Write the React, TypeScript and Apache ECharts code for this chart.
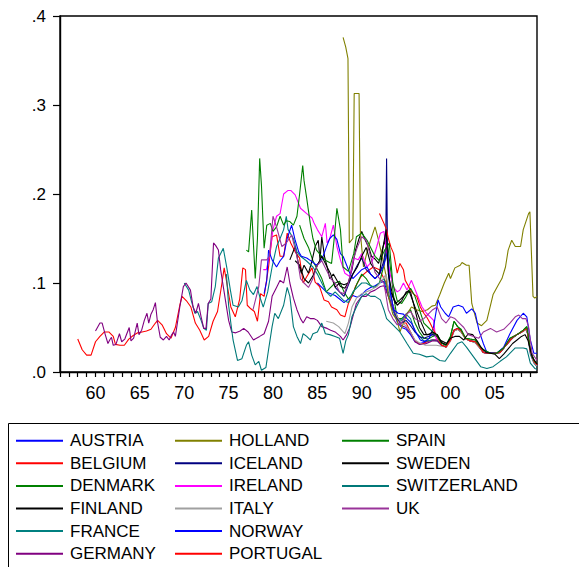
import React, { useEffect, useRef } from 'react';
import * as echarts from 'echarts';

const FONT = 'Liberation Sans, Arial, sans-serif';

const COUNTRIES = [
  'AUSTRIA', 'BELGIUM', 'DENMARK', 'FINLAND', 'FRANCE', 'GERMANY',
  'HOLLAND', 'ICELAND', 'IRELAND', 'ITALY', 'NORWAY', 'PORTUGAL',
  'SPAIN', 'SWEDEN', 'SWITZERLAND', 'UK',
];
const COLORS = [
  '#0000FF', '#FF0000', '#008000', '#000000', '#008080', '#800080',
  '#808000', '#000080', '#FF00FF', '#A0A0A0', '#0000FF', '#FF0000',
  '#008000', '#000000', '#007878', '#993399',
];
const Y_TICKS = [0, 0.1, 0.2, 0.3, 0.4];
const X_LABEL_YEARS = [1960, 1965, 1970, 1975, 1980, 1985, 1990, 1995, 2000, 2005];

// [time (year + fraction), value]
const AUSTRIA = [[1985.0,.100],[1985.5,.095],[1986.0,.090],[1986.5,.088],[1987.0,.086],[1987.5,.082],[1988.0,.078],[1988.5,.082],[1989.0,.086],[1989.5,.084],[1990.0,.087],[1990.5,.092],[1991.0,.095],[1991.5,.097],[1992.0,.100],[1992.5,.102],[1993.0,.085],[1993.5,.070],[1994.0,.056],[1994.5,.050],[1995.0,.048],[1995.5,.042],[1996.0,.034],[1996.5,.032],[1997.0,.033],[1997.5,.035],[1998.0,.036],[1998.5,.036],[1999.0,.030],[1999.5,.028],[2000.0,.036],[2000.4,.047],[2000.8,.049],[2001.2,.046],[2001.7,.038],[2002.2,.035],[2002.8,.034],[2003.3,.028],[2003.7,.022],[2004.3,.021],[2005.0,.021],[2005.6,.022],[2006.0,.027],[2006.5,.033],[2007.0,.039],[2007.5,.042],[2008.0,.045],[2008.6,.049],[2009.0,.024],[2009.4,.012],[2009.75,.008]];
const BELGIUM = [[1958.0,.037],[1958.5,.025],[1959.0,.019],[1959.5,.019],[1960.0,.034],[1960.5,.040],[1961.0,.045],[1961.5,.045],[1962.0,.040],[1962.25,.031],[1962.75,.030],[1963.25,.030],[1963.75,.037],[1964.25,.041],[1964.75,.044],[1965.25,.045],[1965.75,.046],[1966.25,.048],[1966.75,.055],[1967.0,.058],[1967.5,.053],[1968.0,.043],[1968.5,.038],[1969.0,.050],[1969.5,.075],[1969.75,.085],[1970.25,.080],[1970.75,.073],[1971.25,.055],[1971.75,.047],[1972.25,.036],[1972.75,.040],[1973.25,.057],[1973.75,.068],[1974.25,.100],[1974.5,.117],[1974.75,.103],[1975.25,.073],[1975.75,.062],[1976.25,.082],[1976.6,.117],[1976.9,.115],[1977.1,.075],[1977.5,.071],[1977.9,.068],[1978.25,.057],[1978.6,.088],[1979.0,.085],[1979.5,.118],[1979.9,.152],[1980.4,.154],[1980.8,.130],[1981.2,.130],[1981.6,.156],[1982.0,.145],[1982.5,.135],[1983.0,.128],[1983.4,.100],[1983.8,.107],[1984.4,.117],[1984.75,.101],[1985.25,.096],[1985.75,.081],[1986.25,.079],[1986.6,.073],[1987.2,.070],[1987.6,.064],[1988.1,.062],[1988.5,.077],[1988.9,.085],[1989.3,.096],[1989.9,.107],[1990.6,.113],[1991.3,.118],[1992.0,.115],[1992.5,.105],[1993.0,.095],[1993.5,.075],[1994.0,.062],[1994.5,.055],[1995.0,.055],[1995.5,.045],[1996.0,.035],[1996.5,.032],[1997.0,.032],[1997.5,.035],[1998.0,.036],[1998.5,.036],[1999.0,.030],[1999.5,.028],[2000.0,.035],[2000.4,.047],[2000.8,.049],[2001.2,.046],[2001.7,.038],[2002.2,.035],[2002.8,.034],[2003.3,.028],[2003.7,.022],[2004.3,.021],[2005.0,.021],[2005.6,.022],[2006.0,.027],[2006.5,.033],[2007.0,.039],[2007.5,.042],[2008.0,.045],[2008.6,.049],[2009.0,.024],[2009.4,.012],[2009.75,.008]];
const DENMARK = [[1983.0,.165],[1983.5,.150],[1984.0,.140],[1984.5,.125],[1985.0,.115],[1985.5,.105],[1986.0,.090],[1986.5,.095],[1987.0,.100],[1987.5,.102],[1988.0,.090],[1988.5,.082],[1989.0,.088],[1989.5,.100],[1990.0,.110],[1990.5,.105],[1991.0,.097],[1991.5,.095],[1992.0,.100],[1992.5,.120],[1992.9,.145],[1993.2,.120],[1993.6,.085],[1994.0,.060],[1994.5,.060],[1995.0,.065],[1995.5,.070],[1996.0,.055],[1996.5,.045],[1997.0,.038],[1997.5,.037],[1998.0,.040],[1998.5,.042],[1999.0,.033],[1999.5,.030],[2000.0,.040],[2000.4,.057],[2000.8,.051],[2001.2,.048],[2001.7,.038],[2002.2,.037],[2002.8,.036],[2003.3,.028],[2003.7,.025],[2004.5,.021],[2005.2,.021],[2006.0,.027],[2006.7,.038],[2007.5,.042],[2008.2,.047],[2008.6,.051],[2009.0,.025],[2009.4,.013],[2009.75,.009]];
const FINLAND = [[1981.9,.126],[1982.5,.141],[1982.9,.120],[1983.2,.111],[1983.5,.120],[1984.0,.111],[1984.4,.125],[1984.75,.141],[1985.1,.148],[1985.3,.126],[1985.5,.152],[1985.8,.130],[1986.1,.118],[1986.4,.105],[1986.8,.110],[1987.2,.103],[1987.6,.096],[1988.1,.094],[1988.5,.101],[1988.9,.115],[1989.3,.137],[1989.7,.150],[1990.0,.158],[1990.4,.148],[1990.8,.140],[1991.1,.130],[1991.5,.127],[1991.9,.122],[1992.3,.137],[1992.6,.148],[1992.9,.125],[1993.2,.092],[1993.8,.077],[1994.3,.081],[1994.9,.087],[1995.3,.092],[1996.0,.073],[1996.6,.058],[1997.3,.042],[1998.1,.043],[1998.8,.036],[1999.6,.032],[2000.0,.037],[2000.4,.046],[2000.8,.048],[2001.2,.045],[2001.7,.037],[2002.2,.035],[2002.8,.033],[2003.3,.027],[2003.7,.022],[2004.3,.021],[2005.0,.021],[2005.6,.022],[2006.0,.027],[2006.5,.033],[2007.0,.038],[2007.5,.042],[2008.0,.045],[2008.6,.048],[2009.0,.023],[2009.4,.012],[2009.75,.008]];
const FRANCE = [[1970.0,.100],[1970.5,.092],[1970.8,.080],[1971.2,.066],[1971.5,.068],[1971.9,.058],[1972.2,.049],[1972.5,.047],[1972.7,.077],[1973.1,.079],[1973.5,.096],[1973.85,.128],[1974.4,.139],[1974.8,.117],[1975.2,.092],[1975.5,.075],[1976.1,.073],[1976.5,.080],[1977.0,.103],[1977.4,.092],[1977.8,.087],[1978.2,.096],[1978.5,.085],[1978.9,.073],[1979.4,.090],[1979.9,.118],[1980.4,.141],[1980.8,.150],[1981.2,.160],[1981.5,.175],[1981.7,.160],[1982.3,.150],[1982.7,.135],[1983.1,.130],[1983.75,.125],[1984.5,.118],[1985.0,.110],[1985.5,.100],[1986.0,.090],[1986.5,.085],[1987.0,.090],[1987.5,.085],[1988.0,.080],[1988.5,.078],[1989.0,.090],[1989.5,.095],[1990.0,.100],[1990.5,.100],[1991.0,.097],[1991.5,.095],[1992.0,.100],[1992.5,.105],[1993.0,.090],[1993.5,.070],[1994.0,.060],[1994.5,.058],[1995.0,.065],[1995.5,.060],[1996.0,.045],[1996.5,.040],[1997.0,.035],[1997.5,.035],[1998.0,.036],[1998.5,.035],[1999.0,.030],[1999.5,.028],[2000.0,.036],[2000.4,.047],[2000.8,.049],[2001.2,.046],[2001.7,.038],[2002.2,.035],[2002.8,.034],[2003.3,.028],[2003.7,.022],[2004.3,.021],[2005.0,.021],[2005.6,.022],[2006.0,.027],[2006.5,.033],[2007.0,.039],[2007.5,.042],[2008.0,.045],[2008.6,.049],[2009.0,.020],[2009.4,.010],[2009.75,.006]];
const GERMANY = [[1960.0,.046],[1960.5,.055],[1960.75,.055],[1961.1,.042],[1961.4,.032],[1961.6,.036],[1961.8,.039],[1962.0,.030],[1962.3,.031],[1962.7,.043],[1962.95,.034],[1963.3,.037],[1963.8,.050],[1964.0,.035],[1964.3,.038],[1964.7,.055],[1964.9,.042],[1965.2,.047],[1965.5,.058],[1965.8,.066],[1966.0,.055],[1966.25,.065],[1966.5,.070],[1966.75,.078],[1966.97,.057],[1967.3,.039],[1967.65,.036],[1968.0,.040],[1968.3,.036],[1968.6,.042],[1968.8,.045],[1969.0,.040],[1969.5,.073],[1969.9,.096],[1970.2,.100],[1970.7,.092],[1971.0,.073],[1971.3,.066],[1971.6,.077],[1971.9,.062],[1972.2,.049],[1972.45,.049],[1972.7,.077],[1973.0,.082],[1973.3,.145],[1973.55,.142],[1973.85,.137],[1974.1,.115],[1974.4,.096],[1975.0,.058],[1975.35,.045],[1975.8,.044],[1976.3,.046],[1976.7,.049],[1977.2,.045],[1977.8,.036],[1978.5,.040],[1979.0,.043],[1979.5,.057],[1979.9,.085],[1980.4,.095],[1980.8,.103],[1981.2,.100],[1981.6,.118],[1981.9,.100],[1982.3,.083],[1982.7,.070],[1983.1,.060],[1983.4,.055],[1983.8,.062],[1984.2,.060],[1984.6,.060],[1985.0,.058],[1985.5,.051],[1986.1,.049],[1986.5,.047],[1987.0,.045],[1987.6,.040],[1987.9,.036],[1988.3,.042],[1988.7,.051],[1989.1,.066],[1989.4,.077],[1990.0,.085],[1990.5,.085],[1991.0,.090],[1991.5,.092],[1992.1,.096],[1992.5,.097],[1993.0,.085],[1993.5,.072],[1994.0,.060],[1994.5,.052],[1995.0,.050],[1995.5,.044],[1996.0,.034],[1996.5,.031],[1997.0,.031],[1997.5,.033],[1998.0,.035],[1998.5,.035],[1999.0,.030],[1999.5,.028],[2000.0,.036],[2000.4,.046],[2000.8,.049],[2001.2,.046],[2001.7,.038],[2002.2,.035],[2002.8,.034],[2003.3,.028],[2003.7,.022],[2004.3,.021],[2005.0,.021],[2005.6,.022],[2006.0,.027],[2006.5,.033],[2007.0,.039],[2007.5,.042],[2008.0,.045],[2008.6,.049],[2009.0,.022],[2009.4,.011],[2009.75,.007]];
const HOLLAND = [[1987.9,.376],[1988.2,.365],[1988.45,.352],[1988.6,.145],[1989.0,.150],[1989.15,.313],[1989.7,.313],[1989.85,.156],[1990.2,.118],[1990.6,.135],[1991.0,.148],[1991.5,.163],[1991.9,.148],[1992.3,.130],[1992.7,.110],[1993.0,.085],[1993.5,.065],[1994.0,.058],[1994.3,.045],[1994.7,.055],[1995.1,.065],[1995.6,.073],[1996.2,.070],[1996.8,.068],[1997.4,.070],[1997.9,.074],[1998.3,.075],[1998.8,.087],[1999.3,.100],[1999.8,.111],[2000.0,.105],[2000.5,.117],[2001.1,.120],[2001.3,.123],[2001.8,.120],[2002.1,.120],[2002.4,.077],[2003.0,.055],[2003.5,.052],[2004.1,.058],[2004.8,.087],[2005.4,.098],[2005.8,.105],[2006.2,.118],[2006.5,.137],[2006.9,.148],[2007.3,.141],[2007.9,.141],[2008.2,.160],[2008.8,.178],[2008.95,.180],[2009.3,.085],[2009.5,.083],[2009.75,.085]];
const ICELAND = [[1987.0,.095],[1987.5,.090],[1988.0,.085],[1988.5,.098],[1989.0,.110],[1989.5,.120],[1990.0,.128],[1990.5,.115],[1991.0,.110],[1991.5,.105],[1992.0,.110],[1992.5,.125],[1992.7,.140],[1992.8,.240],[1992.9,.140],[1993.0,.122],[1993.2,.092],[1993.5,.075],[1994.0,.060],[1994.5,.055],[1995.0,.058],[1995.5,.052],[1996.0,.045],[1996.5,.040],[1997.0,.038],[1997.5,.040],[1998.0,.042],[1998.5,.040]];
const IRELAND = [[1978.9,.115],[1979.25,.115],[1979.6,.130],[1980.0,.160],[1980.4,.175],[1980.8,.178],[1981.2,.200],[1981.7,.204],[1982.0,.204],[1982.5,.199],[1983.1,.184],[1983.8,.178],[1984.4,.173],[1984.6,.168],[1985.0,.160],[1985.5,.152],[1985.9,.167],[1986.1,.145],[1986.4,.150],[1986.8,.165],[1987.2,.141],[1987.6,.126],[1988.1,.111],[1988.7,.107],[1989.1,.128],[1989.6,.126],[1990.0,.133],[1990.6,.118],[1991.2,.125],[1991.7,.141],[1992.1,.156],[1992.5,.158],[1992.8,.133],[1993.2,.110],[1993.6,.095],[1994.0,.090],[1994.3,.092],[1994.7,.100],[1995.1,.092],[1995.6,.103],[1996.2,.088],[1996.8,.073],[1997.3,.066],[1998.1,.058],[1998.3,.040],[1998.5,.036]];
const ITALY = [[1986.0,.057],[1986.8,.055],[1987.4,.051],[1988.1,.043],[1988.5,.055],[1988.9,.073],[1989.4,.083],[1990.0,.088],[1991.0,.092],[1991.7,.096],[1992.3,.103],[1992.75,.110],[1993.0,.095],[1993.5,.075],[1994.0,.062],[1994.5,.055],[1995.0,.052],[1995.5,.045],[1996.0,.036],[1996.6,.032],[1997.2,.030],[1997.8,.030],[1998.4,.030],[1999.0,.029],[1999.5,.028],[2000.0,.035],[2000.4,.046],[2000.8,.048],[2001.2,.045],[2001.7,.037],[2002.2,.035],[2002.8,.033],[2003.3,.027],[2003.7,.022],[2004.3,.021],[2005.0,.021],[2005.6,.022],[2006.0,.027],[2006.5,.033],[2007.0,.039],[2007.5,.042],[2008.0,.045],[2008.6,.048],[2009.0,.023],[2009.4,.011],[2009.75,.007]];
const NORWAY = [[1979.0,.088],[1979.3,.103],[1979.5,.137],[1979.9,.126],[1980.4,.118],[1980.8,.125],[1981.2,.130],[1981.6,.150],[1982.1,.165],[1982.5,.148],[1982.9,.135],[1983.2,.130],[1983.8,.128],[1984.4,.124],[1984.9,.120],[1985.5,.126],[1986.0,.140],[1986.4,.150],[1986.8,.154],[1987.2,.149],[1987.6,.133],[1987.9,.130],[1988.3,.120],[1988.7,.110],[1989.0,.105],[1989.5,.110],[1990.0,.115],[1990.6,.118],[1991.0,.110],[1991.5,.105],[1992.0,.110],[1992.5,.120],[1992.9,.135],[1993.2,.090],[1993.6,.070],[1994.1,.066],[1994.7,.065],[1995.1,.060],[1995.6,.055],[1996.2,.043],[1996.6,.036],[1997.1,.034],[1997.6,.038],[1998.1,.051],[1998.6,.081],[1998.9,.073],[1999.4,.066],[1999.8,.062],[2000.3,.073],[2000.9,.075],[2001.4,.073],[2001.8,.066],[2002.4,.071],[2002.8,.066],[2003.2,.047],[2003.7,.032],[2004.1,.022],[2005.2,.021],[2006.0,.028],[2006.7,.043],[2007.5,.058],[2008.2,.066],[2008.6,.062],[2009.0,.036],[2009.4,.021],[2009.75,.021]];
const PORTUGAL = [[1992.0,.178],[1992.5,.167],[1992.8,.160],[1993.0,.150],[1993.3,.140],[1993.6,.133],[1994.0,.111],[1994.3,.122],[1994.7,.115],[1994.9,.103],[1995.5,.092],[1995.8,.088],[1996.2,.085],[1996.6,.073],[1997.0,.066],[1997.3,.062],[1997.7,.055],[1998.1,.047],[1998.5,.040],[1999.0,.030],[1999.5,.028],[2000.0,.036],[2000.4,.047],[2000.8,.049],[2001.2,.046],[2001.7,.038],[2002.2,.035],[2002.8,.034],[2003.3,.028],[2003.7,.022],[2004.3,.021],[2005.0,.021],[2005.6,.022],[2006.0,.027],[2006.5,.033],[2007.0,.039],[2007.5,.042],[2008.0,.045],[2008.6,.049],[2009.0,.024],[2009.4,.012],[2009.75,.008]];
const SPAIN = [[1977.0,.137],[1977.25,.135],[1977.6,.182],[1978.0,.105],[1978.25,.150],[1978.5,.240],[1978.7,.210],[1979.0,.139],[1979.3,.165],[1979.7,.167],[1980.0,.158],[1980.4,.163],[1980.8,.175],[1981.2,.165],[1981.5,.170],[1981.9,.169],[1982.3,.165],[1982.7,.175],[1983.0,.200],[1983.35,.232],[1983.5,.215],[1983.8,.195],[1984.2,.167],[1984.5,.150],[1984.9,.137],[1985.5,.130],[1986.0,.125],[1986.6,.122],[1986.9,.150],[1987.2,.184],[1987.6,.160],[1987.9,.118],[1988.5,.113],[1989.1,.133],[1989.4,.152],[1990.0,.156],[1990.6,.148],[1991.0,.140],[1991.5,.130],[1992.0,.125],[1992.6,.137],[1993.1,.145],[1993.5,.100],[1994.0,.080],[1994.5,.077],[1995.0,.085],[1995.5,.094],[1996.0,.085],[1996.5,.070],[1997.0,.055],[1997.5,.050],[1998.0,.045],[1998.5,.040],[1999.0,.032],[1999.5,.030],[2000.0,.040],[2000.4,.057],[2000.8,.051],[2001.2,.047],[2001.7,.038],[2002.2,.037],[2002.8,.036],[2003.3,.029],[2003.7,.025],[2004.5,.021],[2005.2,.021],[2006.0,.027],[2006.7,.038],[2007.5,.042],[2008.2,.047],[2008.6,.051],[2009.0,.025],[2009.4,.013],[2009.75,.009]];
const SWEDEN = [[1982.5,.125],[1983.0,.120],[1983.5,.105],[1984.0,.100],[1984.5,.108],[1985.0,.120],[1985.5,.130],[1986.0,.120],[1986.5,.110],[1987.0,.095],[1987.5,.100],[1988.0,.098],[1988.5,.100],[1989.0,.110],[1989.5,.118],[1990.0,.130],[1990.5,.140],[1991.0,.122],[1991.5,.115],[1992.0,.110],[1992.4,.140],[1992.75,.160],[1993.0,.110],[1993.5,.085],[1994.0,.075],[1994.5,.080],[1995.0,.090],[1995.5,.090],[1996.0,.070],[1996.5,.050],[1997.0,.042],[1997.5,.042],[1998.0,.045],[1998.5,.042],[1999.0,.033],[1999.5,.031],[2000.0,.038],[2000.5,.040],[2001.0,.040],[2001.5,.036],[2002.0,.043],[2002.5,.042],[2003.0,.035],[2003.5,.027],[2004.0,.022],[2004.5,.021],[2005.0,.020],[2005.5,.015],[2006.0,.020],[2006.5,.026],[2007.0,.032],[2007.5,.036],[2008.0,.040],[2008.4,.042],[2008.75,.035],[2009.2,.017],[2009.75,.009]];
const SWITZERLAND = [[1974.75,.110],[1975.0,.075],[1975.25,.055],[1975.5,.036],[1976.0,.013],[1976.5,.015],[1977.0,.030],[1977.25,.034],[1977.6,.019],[1978.0,.008],[1978.4,.012],[1978.7,.002],[1979.2,.005],[1979.5,.025],[1979.9,.051],[1980.2,.066],[1980.6,.060],[1981.2,.075],[1981.6,.095],[1981.9,.085],[1982.3,.051],[1982.7,.040],[1983.1,.032],[1983.4,.043],[1983.8,.040],[1984.2,.036],[1984.5,.043],[1985.0,.045],[1985.5,.055],[1985.9,.043],[1986.4,.042],[1987.0,.040],[1987.5,.038],[1987.9,.021],[1988.2,.035],[1988.5,.042],[1988.9,.062],[1989.4,.073],[1990.0,.085],[1990.5,.088],[1991.0,.085],[1991.5,.085],[1992.1,.081],[1992.5,.070],[1992.8,.060],[1993.6,.052],[1994.3,.045],[1995.1,.032],[1995.8,.021],[1996.5,.020],[1997.3,.017],[1998.0,.018],[1998.8,.013],[1999.4,.012],[2000.0,.021],[2000.8,.032],[2001.3,.034],[2001.8,.028],[2002.6,.017],[2003.4,.006],[2004.1,.004],[2004.8,.006],[2005.6,.012],[2006.3,.017],[2007.3,.027],[2008.2,.027],[2008.6,.026],[2009.0,.010],[2009.5,.004],[2009.75,.003]];
const UK = [[1977.75,.070],[1978.4,.096],[1978.7,.126],[1979.3,.126],[1979.6,.130],[1980.0,.175],[1980.4,.163],[1981.0,.141],[1981.5,.145],[1982.1,.154],[1982.7,.130],[1983.1,.105],[1983.5,.100],[1984.0,.095],[1984.5,.105],[1985.0,.120],[1985.5,.125],[1986.0,.115],[1986.5,.105],[1987.0,.100],[1987.5,.090],[1988.0,.088],[1988.5,.100],[1989.0,.125],[1989.5,.140],[1990.0,.152],[1990.5,.148],[1991.0,.130],[1991.5,.112],[1992.0,.105],[1992.5,.100],[1993.0,.070],[1993.5,.060],[1994.0,.053],[1994.5,.055],[1995.0,.065],[1995.5,.068],[1996.0,.060],[1996.5,.057],[1997.0,.060],[1997.5,.065],[1998.0,.070],[1998.5,.073],[1999.0,.060],[1999.5,.055],[2000.0,.062],[2000.5,.060],[2001.0,.055],[2001.5,.050],[2002.0,.042],[2002.6,.040],[2003.2,.038],[2003.7,.045],[2004.5,.049],[2005.2,.045],[2006.0,.048],[2006.7,.055],[2007.3,.062],[2007.7,.064],[2008.1,.060],[2008.5,.060],[2008.8,.051],[2009.2,.021],[2009.75,.013]];

const SERIES_DATA = [
  AUSTRIA, BELGIUM, DENMARK, FINLAND, FRANCE, GERMANY, HOLLAND, ICELAND,
  IRELAND, ITALY, NORWAY, PORTUGAL, SPAIN, SWEDEN, SWITZERLAND, UK,
];

export default function App() {
  const ref = useRef<HTMLDivElement>(null);
  useEffect(() => {
    const chart = echarts.init(ref.current!, null, { renderer: 'svg' });
    const legendBase = {
      orient: 'vertical',
      top: 429.4,
      itemWidth: 47,
      itemHeight: 2,
      itemGap: 0,
      icon: 'rect',
      padding: 0,
      selectedMode: false,
      textStyle: { fontSize: 17, lineHeight: 22.6, fontFamily: FONT, color: '#000', padding: [0, 0, 0, 2] },
    };
    chart.setOption({
      animation: false,
      textStyle: { fontFamily: FONT },
      grid: { left: 60, top: 16, right: 42, bottom: 195, show: true, borderColor: '#000', borderWidth: 1.4, backgroundColor: 'transparent' },
      xAxis: {
        type: 'value', min: 1956, max: 2009.75, interval: 1,
        axisLine: { show: true, lineStyle: { color: '#000', width: 1.4 } },
        axisTick: { show: true, length: 5, lineStyle: { color: '#000', width: 1.2 } },
        axisLabel: {
          color: '#000', fontSize: 18, fontFamily: FONT, margin: 12, showMaxLabel: false,
          formatter: (v: number) => (X_LABEL_YEARS.includes(v) ? String(v % 100).padStart(2, '0') : ''),
        },
        splitLine: { show: false },
      },
      yAxis: {
        type: 'value', min: Y_TICKS[0], max: Y_TICKS[Y_TICKS.length - 1], interval: 0.1,
        axisLine: { show: true, lineStyle: { color: '#000', width: 1.4 } },
        axisTick: { show: true, length: 7, lineStyle: { color: '#000', width: 1.2 } },
        axisLabel: {
          color: '#000', fontSize: 17, fontFamily: FONT, margin: 14,
          formatter: (v: number) => v.toFixed(1).replace(/^0/, ''),
        },
        splitLine: { show: false },
      },
      legend: [
        { ...legendBase, left: 16, data: COUNTRIES.slice(0, 6) },
        { ...legendBase, left: 175, data: COUNTRIES.slice(6, 12) },
        { ...legendBase, left: 342, data: COUNTRIES.slice(12, 16) },
      ],
      graphic: [
        { type: 'rect', shape: { x: 8.5, y: 423.5, width: 620, height: 200 }, style: { fill: 'none', stroke: '#000', lineWidth: 1 }, silent: true },
      ],
      series: COUNTRIES.map((name, i) => ({
        name,
        type: 'line',
        data: SERIES_DATA[i],
        symbol: 'none',
        showSymbol: false,
        color: COLORS[i],
        itemStyle: { color: COLORS[i] },
        lineStyle: { width: 1.1, color: COLORS[i] },
        emphasis: { disabled: true },
      })),
    });
    return () => chart.dispose();
  }, []);
  return (
    <div
      ref={ref}
      style={{ position: 'fixed', left: 0, top: 0, width: 579, height: 567, background: '#fff' }}
    />
  );
}
